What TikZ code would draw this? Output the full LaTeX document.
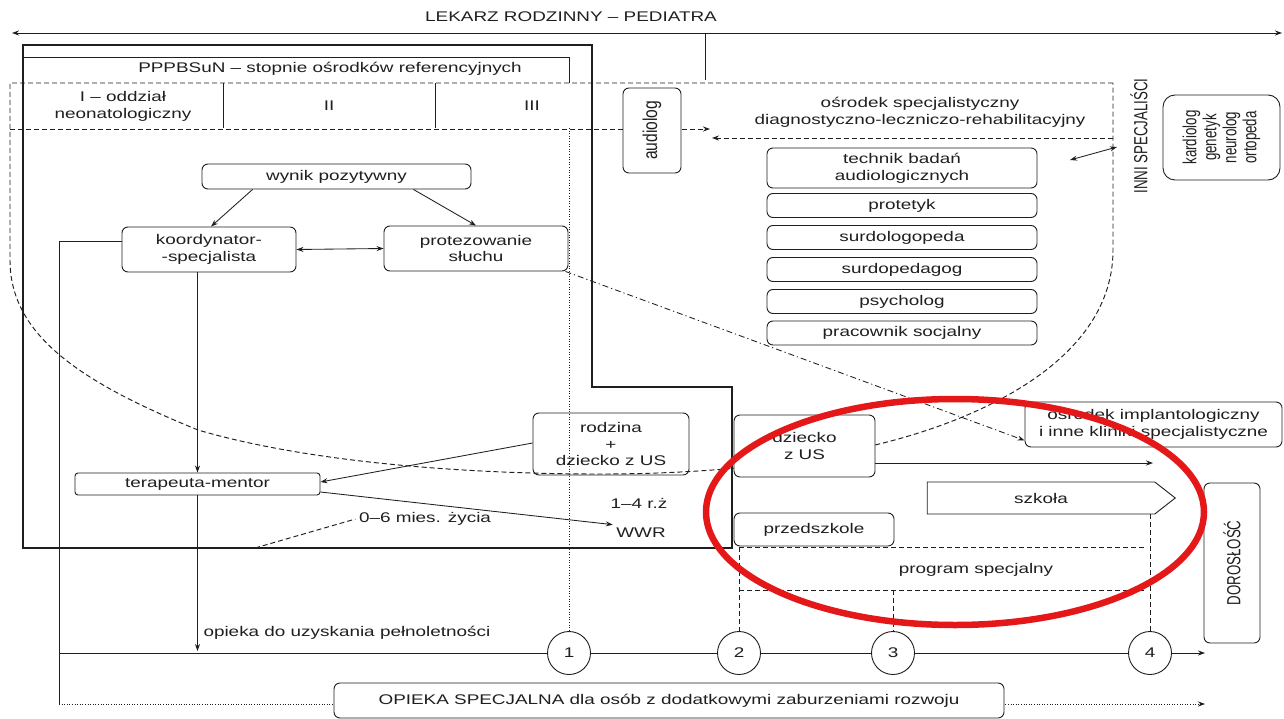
\documentclass[tikz,border=0pt]{standalone}
\usepackage{fontspec}
\setmainfont{Liberation Sans}[FakeStretch=1.35]
\newfontfamily\rotfont{Liberation Sans}[FakeStretch=0.7]
\newfontfamily\audfont{Liberation Sans}[FakeStretch=0.78]
\usetikzlibrary{arrows.meta,shapes.symbols,calc}
\pgfdeclarelayer{background}
\pgfsetlayers{background,main}
\definecolor{ink}{gray}{0.12}
\definecolor{redmark}{RGB}{228,24,24}
\begin{document}
\begin{tikzpicture}[x=1pt,y=-1pt,
  font=\fontsize{14}{16.8}\selectfont,
  every node/.style={text=ink},
  box/.style={draw=ink, line width=0.9pt, rounded corners=6pt, fill=white, inner sep=0pt, align=center},
  sbox/.style={box, rounded corners=3pt},
  rbox/.style={box, rotate=90, font=\rotfont\fontsize{19}{20}\selectfont},
  rtxt/.style={rotate=90, font=\rotfont\fontsize{19}{20}\selectfont, inner sep=0pt},
  ln/.style={draw=ink, line width=0.85pt},
  arr/.style={-{Stealth[length=7pt,width=5pt]}},
  darr/.style={{Stealth[length=7pt,width=5pt]}-{Stealth[length=7pt,width=5pt]}},
  dsh/.style={ln, line width=0.95pt, dash pattern=on 5pt off 3pt},
  dtt/.style={ln, line width=0.75pt, dash pattern=on 1pt off 1.6pt},
  ddot/.style={ln, dash pattern=on 6pt off 3pt on 1.2pt off 3pt},
  circ/.style={draw=ink, line width=0.9pt, circle, minimum size=43pt, inner sep=0pt, fill=white},
  frame/.style={draw=ink, line width=2.6pt, line join=miter},
]
\useasboundingbox (0,0) rectangle (1284,719);

% ---------- text labels ----------
\node (lek) at (571,17) {LEKARZ RODZINNY – PEDIATRA};
\node (ppp) at (330,69) {PPPBSuN – stopnie ośrodków referencyjnych};
\node[align=center] (cI) at (123,106) {I – oddział\\neonatologiczny};
\node (cII) at (329,106) {II};
\node (cIII) at (532,106) {III};
\node[align=center] (osr) at (920,112) {ośrodek specjalistyczny\\diagnostyczno-leczniczo-rehabilitacyjny};
\node[rtxt] (inn) at (1139,136) {INNI SPECJALIŚCI};

% ---------- boxes ----------
\node[box, minimum width=269pt, minimum height=25pt] (wyn) at (336.5,176.5) {wynik pozytywny};
\node[box, minimum width=174pt, minimum height=45pt] (koo) at (209,249.5) {koordynator-\\-specjalista};
\node[box, minimum width=184pt, minimum height=45pt] (pro) at (476,248.5) {protezowanie\\słuchu};
\node[rbox, minimum width=85pt, minimum height=58pt, font=\audfont\fontsize{20}{22}\selectfont] (aud) at (652,130.5) {audiolog};
\node[box, minimum width=270pt, minimum height=40pt] (tec) at (902,168) {technik badań\\audiologicznych};
\node[box, minimum width=270pt, minimum height=24pt] (prt) at (902,205.5) {protetyk};
\node[box, minimum width=270pt, minimum height=24pt] (sul) at (902,237.5) {surdologopeda};
\node[box, minimum width=270pt, minimum height=24pt] (sup) at (902,269.5) {surdopedagog};
\node[box, minimum width=270pt, minimum height=24pt] (psy) at (902,301.5) {psycholog};
\node[box, minimum width=270pt, minimum height=24pt] (pra) at (902,333) {pracownik socjalny};
\node[rbox, minimum width=85pt, minimum height=117pt, rounded corners=12pt] (kar) at (1221.5,137.5) {kardiolog\\genetyk\\neurolog\\ortopeda};
\node[sbox, minimum width=245pt, minimum height=22pt] (ter) at (197.5,484) {terapeuta-mentor};
\node[box, minimum width=156pt, minimum height=62pt, fill=none] (rod) at (611,444) {rodzina\\+\\dziecko z US};
\node[box, minimum width=141pt, minimum height=62pt] (dzi) at (804.5,446) {dziecko\\z US};
\node[box, minimum width=257pt, minimum height=45pt] (imp) at (1153.5,424.5) {ośrodek implantologiczny\\i inne kliniki specjalistyczne};
\node[draw=ink, line width=0.9pt, signal, signal to=east, signal pointer angle=76, minimum width=248pt, minimum height=32pt, inner sep=0pt, fill=white] (szk) at (1041,498) {szkoła};
\node[box, minimum width=160pt, minimum height=33pt] (prz) at (814,529.5) {przedszkole};
\node[rbox, minimum width=160pt, minimum height=56pt] (dor) at (1232,563) {DOROSŁOŚĆ};
\node[box, minimum width=670pt, minimum height=35pt] (opi) at (669,700.5) {OPIEKA SPECJALNA dla osób z dodatkowymi zaburzeniami rozwoju};
\node[circ] (n1) at (569,653) {1};
\node[circ] (n2) at (739,653) {2};
\node[circ] (n3) at (893,653) {3};
\node[circ] (n4) at (1150,653) {4};

\node[anchor=west] (ope) at (200,633) {opieka do uzyskania pełnoletności};
\node (mie) at (425,519) {0–6 mies. życia};
\node (r14) at (639,503) {1–4 r.ż};
\node (wwr) at (641,533) {WWR};
\node (prg) at (976,570) {program specjalny};

% ---------- coordinates ----------
\coordinate (LA) at (12,33); \coordinate (RA) at (1282,33);
\coordinate (T1) at (705,33); \coordinate (T2) at (705,80);
\coordinate (DL) at (10,129); \coordinate (DA) at (710,129);
\coordinate (DR) at (1113,138); \coordinate (DB) at (712,138);
\coordinate (X1) at (1070,160); \coordinate (X2) at (1117,147);
\coordinate (LB) at (59,704); \coordinate (LE) at (1205,704);
\coordinate (ML) at (59,653); \coordinate (MR) at (1205,653);
\coordinate (OP) at (197.5,651);
\coordinate (M6) at (255,548);
\coordinate (DE) at (1153,463);
\coordinate (D1) at (569,128);
\coordinate (P1) at (739,547); \coordinate (P2) at (1146,547);
\coordinate (P3) at (739,590); \coordinate (P4) at (1146,590);

% ---------- background lines ----------
\begin{pgfonlayer}{background}
\draw[frame] (23,45) -- (592,45) -- (592,387) -- (732,387) -- (732,548) -- (23,548) -- cycle;
\draw[ln] (23,57) -- (569,57) -- (569,83);
\draw[ln] (223,83) -- (223,128);
\draw[ln] (435,83) -- (435,128);
\draw[dsh] (1113,83) -- (10,83) -- (10,260)
  .. controls (10,335) and (80,382) .. (198,430)
  .. controls (300,460) and (450,474) .. (600,474)
  .. controls (700,474) and (800,465) .. (875,445)
  .. controls (980,420) and (1113,360) .. (1113,250) -- cycle;
\draw[dsh,arr] (DL) -- (DA);
\draw[dsh,arr] (DR) -- (DB);
\draw[dtt,arr] (LB) -- (LE);
\end{pgfonlayer}

% ---------- connectors ----------
\draw[ln,darr] (LA) -- (RA);
\draw[ln] (T1) -- (T2);
\draw[ln,darr] (X1) -- (X2);
\draw[ln,arr] ([xshift=51pt]wyn.south west) -- ([xshift=2pt]koo.north);
\draw[ln,arr] ([xshift=-58pt]wyn.south east) -- (pro.north);
\draw[ln,darr] (koo.east) -- (pro.west);
\draw[ln] ([yshift=8pt]koo.west) -| (LB);
\draw[ln,arr] (ter.north |- koo.south) -- (ter.north);
\draw[ln,arr] (ter.south) -- (OP);
\draw[ln,arr] ([yshift=1pt]rod.west) -- ([yshift=2pt]ter.east);
\draw[ln,arr] ([yshift=-8pt]ter.east) -- (wwr.north west);
\draw[dsh] (M6) -- (mie.west);
\draw[ddot,arr] ([xshift=-3pt]pro.south east) -- ([yshift=7pt]imp.south west);
\draw[ln,arr] ([yshift=-17pt]dzi.east) -- (DE);
\draw[dtt] (D1) -- (n1.north);
\draw[ln] (ML) -- (n1) -- (n2) -- (n3) -- (n4);
\draw[ln,arr] (n4) -- (MR);
\draw[dsh] (P1) -- (P2);
\draw[dsh] (P3) -- (P4);
\draw[dsh] (P1) -- (n2.north);
\draw[dsh] (n3.north |- P3) -- (n3.north);
\draw[dsh] (n4.north |- szk.south) -- (n4.north);

% ---------- red mark ----------
\draw[redmark, line width=6.5pt] (955,512) ellipse [x radius=249pt, y radius=113pt];
\end{tikzpicture}
\end{document}
